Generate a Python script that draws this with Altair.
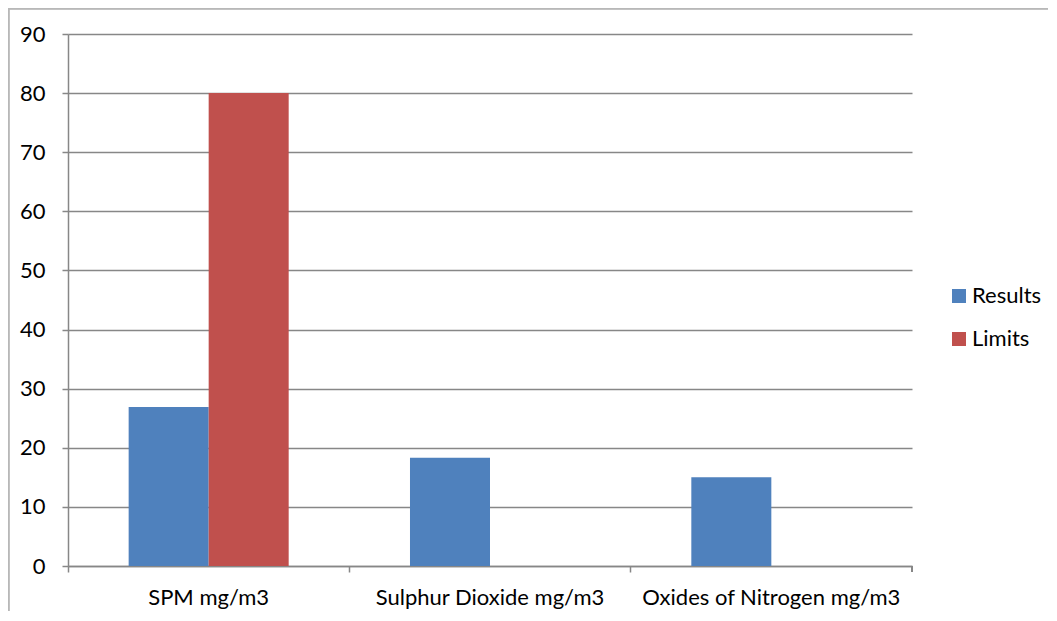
import altair as alt
import pandas as pd

categories = ["SPM mg/m3", "Sulphur Dioxide mg/m3", "Oxides of Nitrogen mg/m3"]
series = ["Results", "Limits"]
results = [26.9, 18.3, 15.0]
limits = [80, 0, 0]
y_ticks = [0, 10, 20, 30, 40, 50, 60, 70, 80, 90]
colors = ["#4F81BD", "#C0504D"]

rows = []
for c, r, l in zip(categories, results, limits):
    rows.append({"category": c, "series": "Results", "value": r})
    rows.append({"category": c, "series": "Limits", "value": l})
df = pd.DataFrame(rows)

FONT = "Lato"
FS = 22
GRID = "#878787"

bars = alt.Chart(df).mark_bar(stroke=None).encode(
    x=alt.X("category:N", sort=categories,
            scale=alt.Scale(paddingInner=0, paddingOuter=0),
            axis=alt.Axis(title=None, labelAngle=0, bandPosition=0,
                          tickSize=6, tickColor=GRID, domainColor=GRID,
                          labelPadding=15, labelFontSize=FS, labelFont=FONT,
                          labelColor="black", grid=False, tickWidth=1.5,
                          domainWidth=1.5, labelLimit=0)),
    xOffset=alt.XOffset("series:N", sort=series,
                        scale=alt.Scale(paddingInner=0, paddingOuter=0.758)),
    y=alt.Y("value:Q", scale=alt.Scale(domain=[0, 90], nice=False),
            axis=alt.Axis(title=None, values=y_ticks, tickSize=6, tickColor=GRID,
                          domainColor=GRID, gridColor=GRID, gridWidth=1.5,
                          tickWidth=1.5, domainWidth=1.5,
                          labelPadding=17, labelFontSize=FS, labelFont=FONT,
                          labelColor="black")),
    color=alt.Color("series:N", sort=series,
                    scale=alt.Scale(domain=series, range=colors),
                    legend=alt.Legend(title=None, orient="none", legendX=880, legendY=251,
                                      symbolType="square", symbolSize=196,
                                      symbolStrokeWidth=0, labelFontSize=FS,
                                      labelFont=FONT, labelColor="black",
                                      rowPadding=21, labelOffset=2, labelLimit=0)),
)

end_tick = alt.Chart(df).mark_rule(color=GRID, strokeWidth=1.5).encode(
    x=alt.value(844), y=alt.value(532), y2=alt.value(538)
)
border_top = alt.Chart(df).mark_rule(color="#b8b8b8", strokeWidth=1.5).encode(
    x=alt.value(-59.5), x2=alt.value(990), y=alt.value(-25.5)
)
border_left = alt.Chart(df).mark_rule(color="#b8b8b8", strokeWidth=1.5).encode(
    x=alt.value(-59.5), y=alt.value(-25.5), y2=alt.value(600)
)

chart = alt.layer(bars, end_tick, border_top, border_left).properties(
    width=844, height=532,
    padding={"left": 60, "top": 26, "right": 136, "bottom": 45},
    autosize=alt.AutoSizeParams(type="none"),
    background="white",
).configure_view(stroke=None)

chart.save("out.html", embed_options={"renderer": "svg", "actions": False})
